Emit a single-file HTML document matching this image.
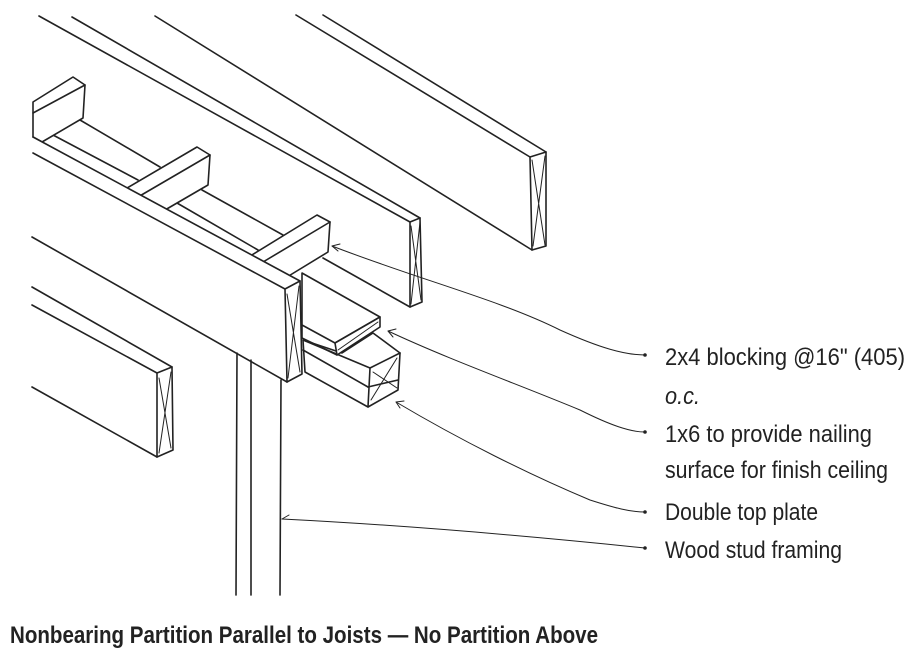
<!DOCTYPE html>
<html><head><meta charset="utf-8"><style>
html,body{margin:0;padding:0;background:#fff;}
svg{display:block;}
text{font-family:"Liberation Sans Narrow","Liberation Sans",sans-serif;fill:#222;}
</style></head><body>
<svg width="911" height="668" viewBox="0 0 911 668" xmlns="http://www.w3.org/2000/svg">
<g stroke="#222" stroke-width="1.6" fill="none" stroke-linecap="round" stroke-linejoin="round">
<!-- far joist -->
<line x1="296" y1="15" x2="530" y2="157"/>
<line x1="323" y1="15" x2="546" y2="152"/>
<line x1="155" y1="16" x2="532" y2="250"/>
<polygon points="530,157 546,152 546,246 532,250" fill="#fff"/>
<path d="M532,160 L545,245 M545,156 L533,246" stroke-width="1"/>
<!-- middle joist -->
<line x1="39" y1="16" x2="410" y2="222"/>
<line x1="72" y1="17" x2="420" y2="218"/>
<line x1="323" y1="258" x2="410" y2="307"/>
<polygon points="410,222 420,218 422,302 410,307" fill="#fff"/>
<path d="M411,226 L421,300 M420,222 L411,304" stroke-width="1"/>
<!-- plate lines between blocks -->
<line x1="80" y1="120" x2="160" y2="167"/>
<line x1="53" y1="135" x2="138" y2="180"/>
<line x1="202" y1="190" x2="283" y2="235"/>
<line x1="177" y1="203" x2="258" y2="250"/>
<!-- upper-left block -->
<polygon points="33,102 73,77 85,85 83,118 42,142 33,137" fill="#fff"/>
<line x1="33" y1="113" x2="85" y2="85"/>
<!-- block 1 -->
<polygon points="127,188 197,147 210,155 208,185 165,210 138,197" fill="#fff"/>
<line x1="138" y1="197" x2="210" y2="155"/>
<!-- block 2 -->
<polygon points="247,258 317,215 330,222 328,252 287,277 258,265" fill="#fff"/>
<line x1="258" y1="265" x2="330" y2="222"/>
<!-- double top plate -->
<polygon points="303,340 342,353 373,333 400,353 398,390 368,407 305,372" fill="#fff"/>
<line x1="370" y1="368" x2="400" y2="353"/>
<line x1="303" y1="340" x2="370" y2="368"/>
<line x1="303" y1="350" x2="368" y2="387"/>
<line x1="368" y1="387" x2="398" y2="380"/>
<line x1="370" y1="368" x2="368" y2="407"/>
<path d="M373,372 L397,388 M397,358 L371,400" stroke-width="1"/>
<!-- 1x6 -->
<polygon points="302,273 380,317 335,343 302,325" fill="#fff"/>
<polygon points="335,343 380,317 380,327 337,355" fill="#fff"/>
<line x1="302" y1="325" x2="302" y2="338"/>
<line x1="302" y1="338" x2="337" y2="355"/>
<path d="M338,350 L378,322" stroke-width="1"/>
<!-- front joist -->
<polygon points="33,137 300,281 302,372 287,382 32,237" fill="#fff" stroke="none"/>
<line x1="33" y1="137" x2="300" y2="281"/>
<line x1="33" y1="153" x2="285" y2="289"/>
<line x1="32" y1="237" x2="287" y2="382"/>
<polygon points="285,289 300,281 302,374 287,382" fill="#fff"/>
<path d="M287,294 L300,372 M299,286 L288,378" stroke-width="1"/>
<!-- lower-left joist -->
<line x1="32" y1="287" x2="172" y2="367"/>
<line x1="32" y1="305" x2="157" y2="373"/>
<line x1="32" y1="387" x2="157" y2="457"/>
<polygon points="157,373 172,367 173,450 157,457" fill="#fff"/>
<path d="M159,378 L171,448 M171,372 L159,453" stroke-width="1"/>
<!-- studs -->
<line x1="237" y1="353" x2="236" y2="595"/>
<line x1="251" y1="360" x2="251" y2="595"/>
<line x1="281" y1="380" x2="280" y2="595"/>
<!-- leaders -->
<g stroke-width="1">
<path d="M332,246 C420,280 500,300 560,330 C600,348 625,355 645,355"/>
<path d="M388,331 C450,360 520,385 580,410 C610,425 630,432 645,432"/>
<path d="M396,402 C460,440 530,475 590,500 C615,508 630,512 645,512"/>
<path d="M282,519 C400,525 520,535 645,548"/>
<path d="M332,246 l8,-2 M332,246 l6,5 M388,331 l8,-2 M388,331 l5,6 M396,402 l8,-1 M396,402 l4,6 M282,519 l7,-4"/>
</g>
</g>
<g fill="#222">
<circle cx="645" cy="355" r="1.8"/><circle cx="645" cy="432" r="1.8"/>
<circle cx="645" cy="512" r="1.8"/><circle cx="645" cy="548" r="1.8"/>
</g>
<g font-size="24">
<text x="665" y="365" textLength="240" lengthAdjust="spacingAndGlyphs">2x4 blocking @16" (405)</text>
<text x="665" y="404" textLength="35" lengthAdjust="spacingAndGlyphs" font-style="italic">o.c.</text>
<text x="665" y="442" textLength="207" lengthAdjust="spacingAndGlyphs">1x6 to provide nailing</text>
<text x="665" y="478" textLength="223" lengthAdjust="spacingAndGlyphs">surface for finish ceiling</text>
<text x="665" y="520" textLength="153" lengthAdjust="spacingAndGlyphs">Double top plate</text>
<text x="665" y="558" textLength="177" lengthAdjust="spacingAndGlyphs">Wood stud framing</text>
</g>
<text x="10" y="643" font-size="24" font-weight="bold" textLength="588" lengthAdjust="spacingAndGlyphs">Nonbearing Partition Parallel to Joists — No Partition Above</text>
</svg>
</body></html>
